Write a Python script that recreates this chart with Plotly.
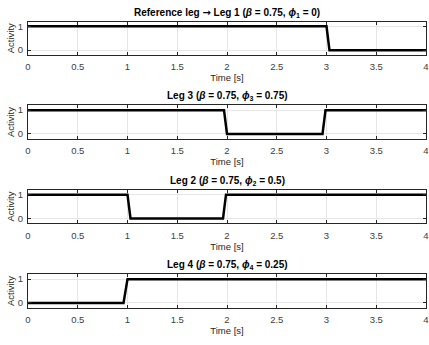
import plotly.graph_objects as go

# Data: step-like activity signals (time [s], activity)
t_leg1 = [0, 3.0, 3.03, 4]
a_leg1 = [1, 1, 0, 0]
t_leg3 = [0, 1.97, 2.0, 2.96, 2.99, 4]
a_leg3 = [1, 1, 0, 0, 1, 1]
t_leg2 = [0, 1.0, 1.03, 1.96, 1.99, 4]
a_leg2 = [1, 1, 0, 0, 1, 1]
t_leg4 = [0, 0.96, 1.0, 4]
a_leg4 = [0, 0, 1, 1]

arrow = '<span style="font-family:DejaVu Sans">→</span>'
titles = [
    "<b>Reference leg " + arrow + " Leg 1 (<i>β</i> = 0.75, <i>ϕ</i><sub>1</sub> = 0)</b>",
    "<b>Leg 3 (<i>β</i> = 0.75, <i>ϕ</i><sub>3</sub> = 0.75)</b>",
    "<b>Leg 2 (<i>β</i> = 0.75, <i>ϕ</i><sub>2</sub> = 0.5)</b>",
    "<b>Leg 4 (<i>β</i> = 0.75, <i>ϕ</i><sub>4</sub> = 0.25)</b>",
]
series = [(t_leg1, a_leg1), (t_leg3, a_leg3), (t_leg2, a_leg2), (t_leg4, a_leg4)]

W, H = 429, 345
tops = [20.7, 105, 190, 275]
ph = 33.5

fig = go.Figure()
layout = dict(
    width=W, height=H,
    margin=dict(l=28, r=3, t=0, b=0),
    paper_bgcolor="white", plot_bgcolor="white",
    showlegend=False,
    font=dict(family="Liberation Sans, Arial, sans-serif", size=9, color="#262626"),
)
annotations = []
for i, ((t, a), title) in enumerate(zip(series, titles)):
    n = "" if i == 0 else str(i + 1)
    fig.add_trace(go.Scatter(x=t, y=a, mode="lines",
                             line=dict(color="black", width=2.5),
                             xaxis="x" + n, yaxis="y" + n))
    y0 = 1 - (tops[i] + ph) / H
    y1 = 1 - tops[i] / H
    common = dict(showline=True, linecolor="#262626", linewidth=1, mirror="ticks",
                  ticks="inside", ticklen=3, tickcolor="#262626",
                  showgrid=True, gridcolor="#e6e6e6", gridwidth=1, zeroline=False,
                  tickfont=dict(size=9.5, color="#404040"))
    layout["xaxis" + n] = dict(domain=[0, 1], anchor="y" + n, range=[0, 4],
                               tickvals=[0, 0.5, 1, 1.5, 2, 2.5, 3, 3.5, 4],
                               ticktext=["0", "0.5", "1", "1.5", "2", "2.5", "3", "3.5", "4"],
                               ticklabelstandoff=3,
                               title=dict(text="Time [s]", standoff=3, font=dict(size=9.5, color="#262626")),
                               **common)
    layout["yaxis" + n] = dict(domain=[y0, y1], anchor="x" + n, range=[-0.2, 1.2],
                               tickvals=[0, 1], ticktext=["0", "1"],
                               ticklabelstandoff=2,
                               title=dict(text="Activity", standoff=1, font=dict(size=9.5, color="#262626")),
                               **common)
    annotations.append(dict(text=title, x=0.5, xref="paper", xanchor="center",
                            y=y1, yref="paper", yanchor="bottom", yshift=1,
                            showarrow=False, font=dict(size=10, color="black")))
layout["annotations"] = annotations
fig.update_layout(**layout)
fig.write_html("out.html")
